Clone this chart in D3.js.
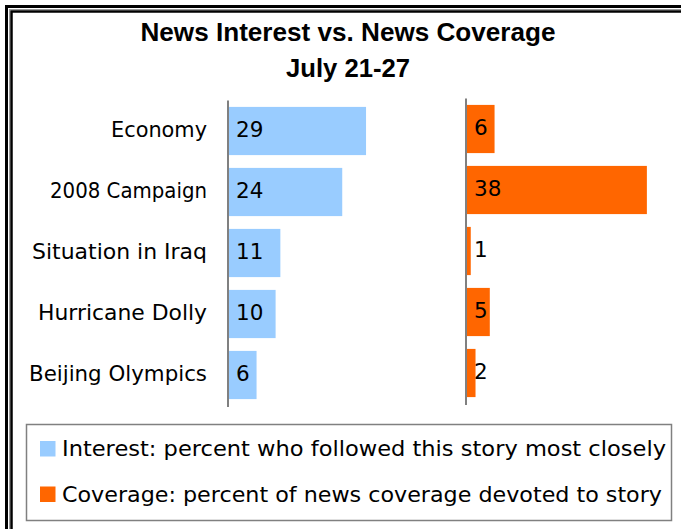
<!DOCTYPE html>
<html><head><meta charset="utf-8">
<script src="https://cdn.jsdelivr.net/npm/d3@7/dist/d3.min.js"></script>
<style>body{margin:0;background:#fff}svg{display:block}</style>
</head><body>
<svg id="c" width="681" height="529"></svg>
<script>
const categories = ["Economy","2008 Campaign","Situation in Iraq","Hurricane Dolly","Beijing Olympics"];
const interest = [29,24,11,10,6];
const coverage = [6,38,1,5,2];
const titleLines = ["News Interest vs. News Coverage","July 21-27"];
const legendLabels = ["Interest: percent who followed this story most closely","Coverage: percent of news coverage devoted to story"];
const colors = ["#99CCFF","#FF6600"];

const svg = d3.select("#c");
// frame
svg.append("rect").attr("x",6.5).attr("y",6.5).attr("width",720).attr("height",560).attr("fill","none").attr("stroke","#000").attr("stroke-width",3);
svg.append("rect").attr("x",9.5).attr("y",9.5).attr("width",720).attr("height",560).attr("fill","none").attr("stroke","#999").attr("stroke-width",1);
svg.append("rect").attr("x",11.5).attr("y",11.5).attr("width",720).attr("height",560).attr("fill","none").attr("stroke","#000").attr("stroke-width",2.5);

// title
svg.selectAll("text.title").data(titleLines).join("text").attr("class","title")
  .attr("x",348).attr("y",(d,i)=>41+i*36).attr("text-anchor","middle")
  .attr("font-family","Liberation Sans, Arial, sans-serif").attr("font-weight","bold").attr("font-size",26)
  .attr("textLength",(d,i)=>i===0?415:124).attr("lengthAdjust","spacingAndGlyphs")
  .attr("fill","#000").text(d=>d);

const x = d3.scaleLinear().domain([0,40]).range([0,190.4]);
const yL = d3.scaleBand().domain(categories).range([100.5,405.5]).paddingInner(0.21).paddingOuter(0.105);
const yR = d3.scaleBand().domain(categories).range([98.5,403.5]).paddingInner(0.21).paddingOuter(0.105);
const leftX = 228, rightX = 466;
const font = "DejaVu Sans, Verdana, sans-serif";

function panel(vals, y, x0, color){
  const g = svg.append("g").attr("transform",`translate(${x0},0)`);
  g.selectAll("rect").data(categories).join("rect")
    .attr("x",0).attr("y",d=>y(d)).attr("width",(d,i)=>x(vals[i])).attr("height",y.bandwidth())
    .attr("fill",color);
  g.selectAll("text").data(categories).join("text")
    .attr("x",8).attr("y",d=>y(d)+y.bandwidth()/2).attr("dy","0.3em")
    .attr("font-family",font).attr("font-size",21.5).attr("fill","#000")
    .text((d,i)=>vals[i]);
  const [r0,r1] = y.range();
  g.append("line").attr("x1",0).attr("x2",0).attr("y1",r0).attr("y2",r1+1.5).attr("stroke","#808080").attr("stroke-width",2);
}
panel(interest, yL, leftX, colors[0]);
panel(coverage, yR, rightX, colors[1]);

// category labels
svg.selectAll("text.cat").data(categories).join("text").attr("class","cat")
  .attr("x",207).attr("y",d=>yL(d)+yL.bandwidth()/2).attr("dy","0.26em").attr("text-anchor","end")
  .attr("font-family",font).attr("font-size",21.5).attr("fill","#000")
  .attr("textLength",(d,i)=>[96,157,175,169,178][i]).attr("lengthAdjust","spacingAndGlyphs")
  .text(d=>d);

// legend
svg.append("rect").attr("x",26.5).attr("y",424.5).attr("width",645).attr("height",96).attr("fill","#fff").attr("stroke","#808080").attr("stroke-width",1.5);
const lg = svg.selectAll("g.leg").data(legendLabels).join("g").attr("class","leg")
  .attr("transform",(d,i)=>`translate(40,${441+i*45.5})`);
lg.append("rect").attr("width",15.5).attr("height",15.5).attr("fill",(d,i)=>colors[i]);
lg.append("text").attr("x",22).attr("y",8).attr("dy","0.34em")
  .attr("font-family",font).attr("font-size",22).attr("fill","#000")
  .attr("textLength",(d,i)=>i===0?604:600).attr("lengthAdjust","spacingAndGlyphs")
  .text(d=>d);
</script>
</body></html>
